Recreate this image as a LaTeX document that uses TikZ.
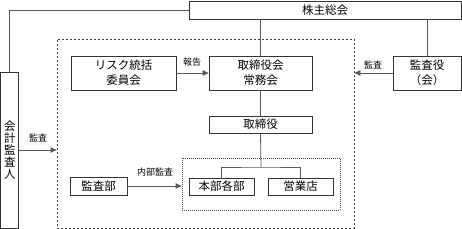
\documentclass[tikz,border=0pt]{standalone}
\usepackage{fontspec}
\newfontfamily\jp{Noto Sans CJK JP}
\usetikzlibrary{arrows.meta}
\begin{document}
\begin{tikzpicture}[x=1pt,y=-1pt,
  box/.style={draw=black!80,line width=0.8pt,inner sep=0pt,align=center,
    font={\jp\fontsize{11.5}{15}\selectfont}},
  conn/.style={draw=black!65,line width=0.8pt},
  arr/.style={conn,-{Triangle[length=6pt,width=5.5pt]}},
  lbl/.style={font={\jp\fontsize{9}{10}\selectfont},inner sep=0pt},
  outerbox/.style={draw=black!75,line width=0.8pt,dash pattern=on 2.2pt off 1.8pt},
  innerbox/.style={draw=black!70,line width=0.8pt,dash pattern=on 1pt off 1pt}
]
\useasboundingbox (0,0) rectangle (462,229);
% dashed frames
\node[outerbox,minimum width=297pt,minimum height=189pt,inner sep=0pt] (outer) at (205.5,133.5) {};
\node[innerbox,minimum width=158pt,minimum height=52pt,inner sep=0pt] (inner) at (261,184) {};
% boxes
\node[box,minimum width=272pt,minimum height=18pt] (sh) at (325,10) {株主総会};
\node[box,minimum width=18pt,minimum height=156pt,font={\jp\fontsize{11.5}{12.2}\selectfont}] (kaikei) at (9.8,150) {会\\計\\監\\査\\人};
\node[box,minimum width=105pt,minimum height=34pt] (risk) at (123.5,73) {リスク統括\\委員会};
\node[box,minimum width=103pt,minimum height=34pt] (board) at (260.5,73) {取締役会\\常務会};
\node[box,minimum width=68pt,minimum height=34pt] (ksy) at (427,73) {監査役\\（会）};
\node[box,minimum width=103pt,minimum height=17pt] (tori) at (260.5,124.5) {取締役};
\node[box,minimum width=65pt,minimum height=17pt] (honbu) at (221.5,186.5) {本部各部};
\node[box,minimum width=65pt,minimum height=17pt] (eigyo) at (300.5,186.5) {営業店};
\node[box,minimum width=57pt,minimum height=18pt] (kansabu) at (98.5,186) {監査部};
\coordinate (junc) at (261,167);
% connectors
\draw[conn] (sh.west) -| (kaikei.north);
\draw[conn] (board.north) -- (board.north |- sh.south);
\draw[conn] (ksy.north) -- (ksy.north |- sh.south);
\draw[conn] (board.south) -- (tori.north);
\draw[conn] (tori.south) -- (junc);
\draw[conn] (honbu.north) |- (junc) -| (eigyo.north);
\draw[arr] (risk.east) -- (board.west);
\draw[arr] (ksy.west) -- (ksy.west -| outer.east);
\draw[arr] (kaikei.east) -- (kaikei.east -| outer.west);
\draw[arr] (kansabu.east) -- (kansabu.east -| inner.west);
% labels
\node[lbl] (l1) at (192,62) {報告};
\node[lbl] (l2) at (373,65) {監査};
\node[lbl] (l3) at (38,138) {監査};
\node[lbl] (l4) at (155,172) {内部監査};
\end{tikzpicture}
\end{document}
